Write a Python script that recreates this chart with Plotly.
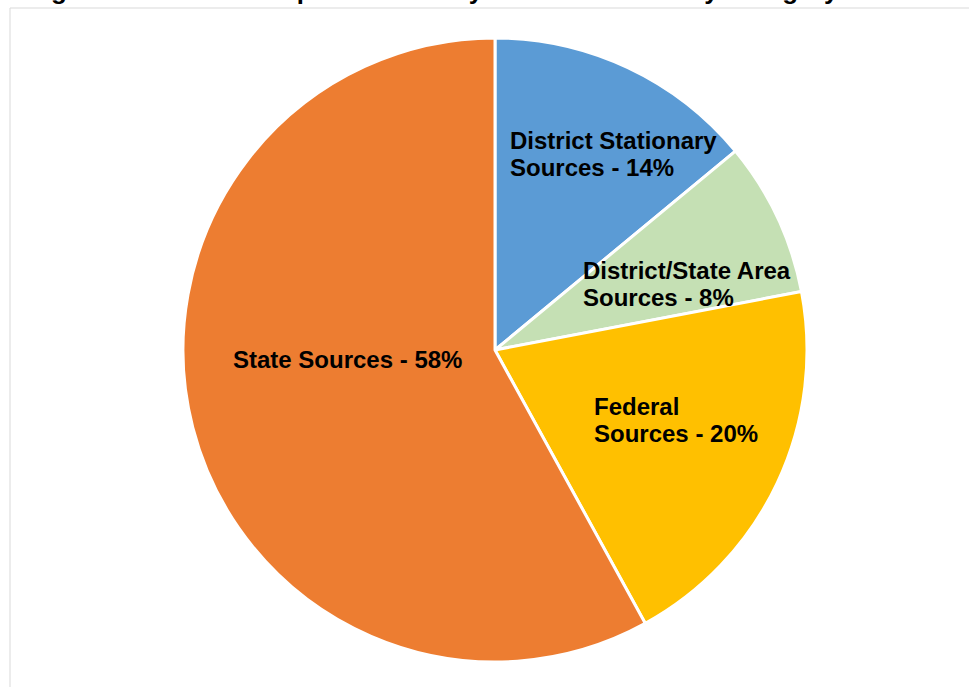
import plotly.graph_objects as go

categories = ["District Stationary Sources", "District/State Area Sources", "Federal Sources", "State Sources"]
label_lines = [["District Stationary", "Sources - 14%"],
               ["District/State Area", "Sources - 8%"],
               ["Federal", "Sources - 20%"],
               ["State Sources - 58%"]]
values = [14, 8, 20, 58]
colors = ["#5B9BD5", "#C5E0B4", "#FFC000", "#ED7D31"]

W, H = 969, 687
cx, cy, r = 495, 350, 312

fig = go.Figure(go.Pie(
    labels=categories,
    values=values,
    sort=False,
    direction="clockwise",
    rotation=0,
    marker=dict(colors=colors, line=dict(color="white", width=3)),
    textinfo="none",
    hoverinfo="label+percent",
    showlegend=False,
    domain=dict(x=[(cx - r) / W, (cx + r) / W], y=[1 - (cy + r) / H, 1 - (cy - r) / H]),
))

# label anchor positions (pixels: left edge, centre of first line), line step 27 px
label_pos = [(508, 140), (581, 270), (592, 406), (231, 359)]
for lines, (px, py) in zip(label_lines, label_pos):
    for i, ln in enumerate(lines):
        fig.add_annotation(
            x=px / W, y=1 - (py + 27.5 * i) / H, xref="paper", yref="paper",
            xanchor="left", yanchor="middle", align="left",
            text="<b>" + ln + "</b>", showarrow=False,
            font=dict(family="Arial, Liberation Sans, sans-serif", size=24, color="#000000"),
        )

# clipped title at the top
fig.add_annotation(
    x=26 / W, y=1 - 7 / H, xref="paper", yref="paper",
    xanchor="left", yanchor="bottom", align="left",
    text="<b>Figure 2: 2023 Subsequent Inventory NOx Emissions by Category</b>", showarrow=False,
    font=dict(family="Arial, Liberation Sans, sans-serif", size=26, color="#000000"),
)

# chart area border
fig.add_shape(type="rect", xref="paper", yref="paper",
              x0=10 / W, y0=-0.05, x1=1.05, y1=1 - 8 / H,
              line=dict(color="#D9D9D9", width=1), fillcolor="rgba(0,0,0,0)", layer="below")

fig.update_layout(
    width=W, height=H,
    margin=dict(l=0, r=0, t=0, b=0),
    paper_bgcolor="white", plot_bgcolor="white",
)

fig.write_html("out.html")
